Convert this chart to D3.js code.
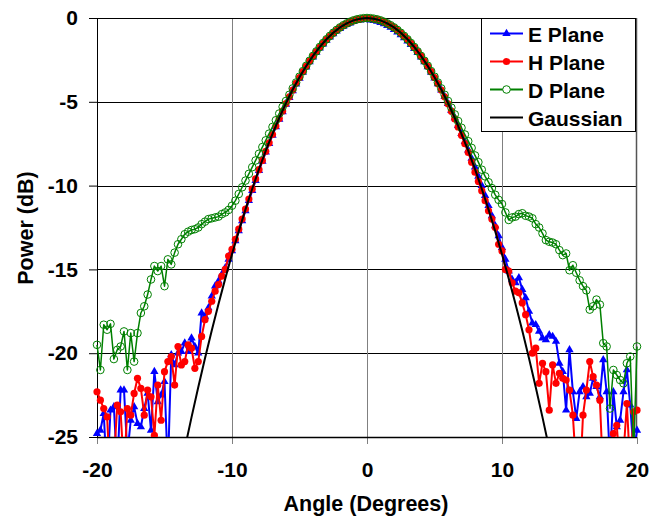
<!DOCTYPE html>
<html>
<head>
<meta charset="utf-8">
<script src="https://cdn.jsdelivr.net/npm/d3@7"></script>
<style>
    body { margin: 0; background: #fff; }
    text { font-family: "Liberation Sans", Arial, sans-serif; font-weight: bold; }
</style>
</head>
<body>
<div id="chart"></div>
<script>
// measured angles: -20 .. 20 step 0.25
let angles = d3.range(-20, 20.001, 0.25);

// E plane (dB), one row per degree
let ePlane = [
    -24.8, -24.6, -23.6, -27.5,
    -23.4, -23.2, -27.0, -22.2,
    -22.2, -26.0, -24.0, -23.2,
    -24.2, -24.4, -23.3, -22.4,
    -24.6, -21.1, -22.9, -22.5,
    -21.7, -27.0, -20.1, -20.7,
    -20.0, -19.9, -19.4, -19.9,
    -19.1, -19.6, -20.0, -17.6,
    -17.8, -17.3, -16.6, -16.0,
    -15.7, -15.3, -14.9, -14.4,
    -13.9, -13.3, -12.7, -12.1,
    -11.5, -10.9, -10.3, -9.7,
    -9.1, -8.55, -8.0, -7.5,
    -7.0, -6.5, -6.05, -5.6,
    -5.15, -4.75, -4.35, -3.95,
    -3.6, -3.25, -2.93, -2.62,
    -2.33, -2.05, -1.8, -1.56,
    -1.34, -1.14, -0.95, -0.78,
    -0.63, -0.5, -0.39, -0.3,
    -0.22, -0.16, -0.12, -0.1,
    -0.1, -0.12, -0.15, -0.2,
    -0.27, -0.35, -0.45, -0.56,
    -0.69, -0.84, -1.0, -1.18,
    -1.38, -1.59, -1.82, -2.07,
    -2.34, -2.62, -2.92, -3.24,
    -3.58, -3.93, -4.3, -4.69,
    -5.1, -5.52, -5.96, -6.42,
    -6.9, -7.38, -7.88, -8.38,
    -8.9, -9.45, -10.0, -10.6,
    -11.2, -11.8, -12.4, -13.0,
    -13.7, -14.4, -15.1, -15.6,
    -15.8, -15.5, -16.2, -16.7,
    -17.5, -18.2, -18.3, -18.7,
    -19.1, -19.2, -18.9, -19.0,
    -19.3, -20.6, -21.1, -23.4,
    -19.8, -22.3, -23.9, -22.3,
    -22.0, -22.6, -22.4, -21.5,
    -22.0, -22.6, -20.4, -22.3,
    -26.5, -22.3, -24.4, -24.0,
    -22.3, -21.0, -23.1, -26.0,
    -24.6
];

// H plane (dB)
let hPlane = [
    -22.3, -22.8, -23.3, -23.8,
    -28.0, -26.5, -23.1, -23.5,
    -27.0, -23.3, -23.7, -22.4,
    -21.5, -22.1, -23.7, -22.2,
    -22.6, -24.9, -21.9, -24.0,
    -21.1, -20.5, -20.2, -21.9,
    -19.6, -20.7, -20.5, -19.5,
    -19.7, -20.9, -20.5, -19.0,
    -18.0, -17.5, -16.9, -16.3,
    -15.9, -15.4, -15.0, -14.2,
    -13.8, -13.2, -12.6, -12.0,
    -11.4, -10.8, -10.2, -9.6,
    -9.05, -8.5, -7.95, -7.45,
    -6.95, -6.45, -6.0, -5.55,
    -5.1, -4.7, -4.3, -3.9,
    -3.55, -3.2, -2.88, -2.57,
    -2.28, -2.0, -1.75, -1.51,
    -1.29, -1.09, -0.9, -0.73,
    -0.58, -0.45, -0.34, -0.24,
    -0.16, -0.1, -0.06, -0.03,
    -0.02, -0.03, -0.06, -0.1,
    -0.16, -0.24, -0.34, -0.45,
    -0.58, -0.73, -0.9, -1.09,
    -1.29, -1.51, -1.75, -2.0,
    -2.28, -2.57, -2.88, -3.2,
    -3.55, -3.92, -4.3, -4.7,
    -5.12, -5.56, -6.02, -6.5,
    -7.0, -7.5, -8.02, -8.6,
    -9.2, -9.75, -10.3, -10.9,
    -11.5, -12.0, -12.5, -13.5,
    -13.9, -15.0, -15.1, -15.8,
    -16.3, -16.4, -17.0, -17.7,
    -18.6, -20.0, -19.7, -21.8,
    -20.6, -21.1, -23.4, -20.7,
    -21.8, -21.2, -21.5, -21.6,
    -22.2, -23.7, -27.0, -28.0,
    -23.7, -22.2, -20.5, -21.4,
    -21.9, -22.8, -27.5, -26.0,
    -28.0, -24.8, -24.3, -27.0,
    -26.0, -23.0, -27.0, -23.5,
    -23.4
];

// D plane (dB)
let dPlane = [
    -19.5, -21.0, -18.3, -18.6,
    -18.25, -20.35, -19.8, -19.6,
    -18.7, -21.0, -18.8, -20.5,
    -18.8, -17.6, -17.2, -16.5,
    -15.6, -14.8, -15.1, -14.8,
    -16.0, -14.4, -14.7, -14.0,
    -13.5, -13.2, -12.9, -12.75,
    -12.65, -12.6, -12.5, -12.3,
    -12.15, -12.0, -11.95, -11.9,
    -11.85, -11.7, -11.6, -11.45,
    -11.2, -10.9, -10.5, -10.1,
    -9.7, -9.3, -8.9, -8.5,
    -8.1, -7.7, -7.3, -6.9,
    -6.5, -6.1, -5.7, -5.3,
    -4.95, -4.58, -4.2, -3.85,
    -3.5, -3.17, -2.85, -2.55,
    -2.26, -1.99, -1.73, -1.49,
    -1.27, -1.07, -0.88, -0.71,
    -0.56, -0.43, -0.32, -0.22,
    -0.14, -0.08, -0.04, -0.01,
    0.0, -0.01, -0.04, -0.08,
    -0.14, -0.22, -0.32, -0.43,
    -0.56, -0.71, -0.88, -1.07,
    -1.27, -1.49, -1.73, -1.99,
    -2.26, -2.55, -2.85, -3.17,
    -3.5, -3.85, -4.2, -4.58,
    -4.95, -5.35, -5.75, -6.15,
    -6.55, -6.95, -7.35, -7.75,
    -8.2, -8.6, -9.05, -9.45,
    -9.8, -10.15, -10.55, -10.85,
    -11.1, -11.6, -12.05, -11.9,
    -11.85, -11.7, -11.65, -11.8,
    -11.85, -11.95, -12.3, -12.5,
    -12.85, -13.25, -13.35, -13.4,
    -13.5, -13.85, -14.15, -14.05,
    -15.05, -14.75, -15.2, -15.65,
    -16.0, -16.25, -17.4, -17.2,
    -16.8, -17.1, -19.4, -19.6,
    -23.3, -21.0, -21.3, -21.6,
    -21.8, -20.6, -20.2, -26.0,
    -19.6
];

// Gaussian fit, -13.5 .. 13.5 step 0.5
let gaussAngles = d3.range(-13.5, 13.501, 0.5);
let gaussian = [
    -25.7, -23.83, -22.03, -20.3, -18.65, -17.06, -15.55, -14.1, -12.73, -11.42,
    -10.19, -9.02, -7.93, -6.91, -5.96, -5.08, -4.27, -3.53, -2.86, -2.26,
    -1.73, -1.27, -0.88, -0.56, -0.32, -0.14, -0.04, 0,
    -0.04, -0.14, -0.32, -0.56, -0.88, -1.27, -1.73, -2.26, -2.86, -3.53,
    -4.27, -5.08, -5.96, -6.91, -7.93, -9.02, -10.19, -11.42, -12.73, -14.1,
    -15.55, -17.06, -18.65, -20.3, -22.03, -23.83, -25.7
];

let xTicks = [-20, -10, 0, 10, 20];
let yTicks = [0, -5, -10, -15, -20, -25];
let seriesNames = ["E Plane", "H Plane", "D Plane", "Gaussian"];

let width = 660, height = 517;
let pLeft = 97, pRight = 637, pTop = 18, pBottom = 437;

let svg = d3.select("#chart").append("svg")
    .attr("width", width).attr("height", height);

let x = d3.scaleLinear().domain([-20, 20]).range([pLeft, pRight]);
let y = d3.scaleLinear().domain([-25, 0]).range([pBottom, pTop]);

// grid
svg.append("g").selectAll("line").data([-5, -10, -15, -20]).join("line")
    .attr("x1", pLeft).attr("x2", pRight)
    .attr("y1", d => Math.round(y(d)) + 0.5).attr("y2", d => Math.round(y(d)) + 0.5)
    .attr("stroke", "#000").attr("stroke-width", 1);
svg.append("g").selectAll("line").data([-10, 0, 10]).join("line")
    .attr("y1", pTop).attr("y2", pBottom)
    .attr("x1", d => Math.round(x(d)) + 0.5).attr("x2", d => Math.round(x(d)) + 0.5)
    .attr("stroke", "#808080").attr("stroke-width", 1);

// axes
let yAxis = svg.append("g").attr("transform", `translate(${pLeft},0)`)
    .call(d3.axisLeft(y).tickValues(yTicks).tickFormat(d => String(d)).tickSize(8).tickPadding(11));
let xAxis = svg.append("g").attr("transform", `translate(0,${pBottom})`)
    .call(d3.axisBottom(x).tickValues(xTicks).tickFormat(d => String(d)).tickSize(7).tickPadding(18));
[yAxis, xAxis].forEach(a => {
    a.select(".domain").remove();
    a.selectAll("line").attr("stroke", "#000");
    a.selectAll("text").style("font-size", "21px").attr("fill", "#000");
});
xAxis.selectAll(".tick line").attr("stroke", "#808080");

// frame
svg.append("line").attr("x1", pLeft).attr("x2", pRight).attr("y1", pTop + 0.5).attr("y2", pTop + 0.5).attr("stroke", "#000");
svg.append("line").attr("x1", pLeft).attr("x2", pRight).attr("y1", pBottom + 0.5).attr("y2", pBottom + 0.5).attr("stroke", "#000").attr("stroke-width", 1.5);
svg.append("line").attr("x1", pLeft + 0.5).attr("x2", pLeft + 0.5).attr("y1", pTop).attr("y2", pBottom).attr("stroke", "#000");
svg.append("line").attr("x1", pRight - 0.5).attr("x2", pRight - 0.5).attr("y1", pTop).attr("y2", pBottom).attr("stroke", "#555").attr("stroke-width", 1.5);

// clip below -25
svg.append("clipPath").attr("id", "clip")
    .append("rect").attr("x", pLeft - 10).attr("y", 0).attr("width", pRight - pLeft + 20).attr("height", pBottom);

let plot = svg.append("g").attr("clip-path", "url(#clip)");
let line = d3.line().x(d => x(d[0])).y(d => y(d[1]));

let tri = d3.symbol().type(d3.symbolTriangle).size(30);

function drawSeries(vals, color, lw, marker) {
    let pts = angles.map((a, i) => [a, vals[i]]);
    plot.append("path").datum(pts).attr("d", line)
        .attr("fill", "none").attr("stroke", color).attr("stroke-width", lw)
        .attr("stroke-linejoin", "round");
    let g = plot.append("g");
    if (marker == "tri") {
        g.selectAll("path").data(pts).join("path")
            .attr("d", tri)
            .attr("transform", d => `translate(${x(d[0])},${y(d[1])})`)
            .attr("fill", color);
    } else if (marker == "dot") {
        g.selectAll("circle").data(pts).join("circle")
            .attr("cx", d => x(d[0])).attr("cy", d => y(d[1]))
            .attr("r", 3.6).attr("fill", color);
    } else {
        g.selectAll("circle").data(pts).join("circle")
            .attr("cx", d => x(d[0])).attr("cy", d => y(d[1]))
            .attr("r", 3.8).attr("fill", "none").attr("stroke", color).attr("stroke-width", 1);
    }
}

drawSeries(ePlane, "#0000ff", 2, "tri");
drawSeries(hPlane, "#ff0000", 2, "dot");
drawSeries(dPlane, "#008000", 1.5, "ring");

plot.append("path").datum(gaussAngles.map((a, i) => [a, gaussian[i]])).attr("d", line)
    .attr("fill", "none").attr("stroke", "#000").attr("stroke-width", 2);

// axis titles
svg.append("text").attr("x", 366).attr("y", 511).attr("text-anchor", "middle")
    .style("font-size", "21.5px").text("Angle (Degrees)");
svg.append("text").attr("transform", "translate(33,228) rotate(-90)").attr("text-anchor", "middle")
    .style("font-size", "21.5px").text("Power (dB)");

// legend
let legend = svg.append("g");
legend.append("rect").attr("x", 481.5).attr("y", 18.5).attr("width", 154).attr("height", 113)
    .attr("fill", "#fff").attr("stroke", "#000").attr("stroke-width", 1);
let legColors = ["#0000ff", "#ff0000", "#008000", "#000"];
let item = legend.selectAll(".leg").data(seriesNames).join("g").attr("class", "leg")
    .attr("transform", (d, i) => `translate(0,${33.5 + i * 28})`);
item.append("line").attr("x1", 490).attr("x2", 523).attr("y1", 0).attr("y2", 0)
    .attr("stroke", (d, i) => legColors[i]).attr("stroke-width", 2);
item.filter((d, i) => i == 0).append("path").attr("d", tri).attr("transform", "translate(506.5,0)").attr("fill", legColors[0]);
item.filter((d, i) => i == 1).append("circle").attr("cx", 506.5).attr("cy", 0).attr("r", 3.6).attr("fill", legColors[1]);
item.filter((d, i) => i == 2).append("circle").attr("cx", 506.5).attr("cy", 0).attr("r", 3.8)
    .attr("fill", "#fff").attr("stroke", legColors[2]);
item.append("text").attr("x", 528).attr("y", 8).style("font-size", "21px").text(d => d);
</script>
</body>
</html>
